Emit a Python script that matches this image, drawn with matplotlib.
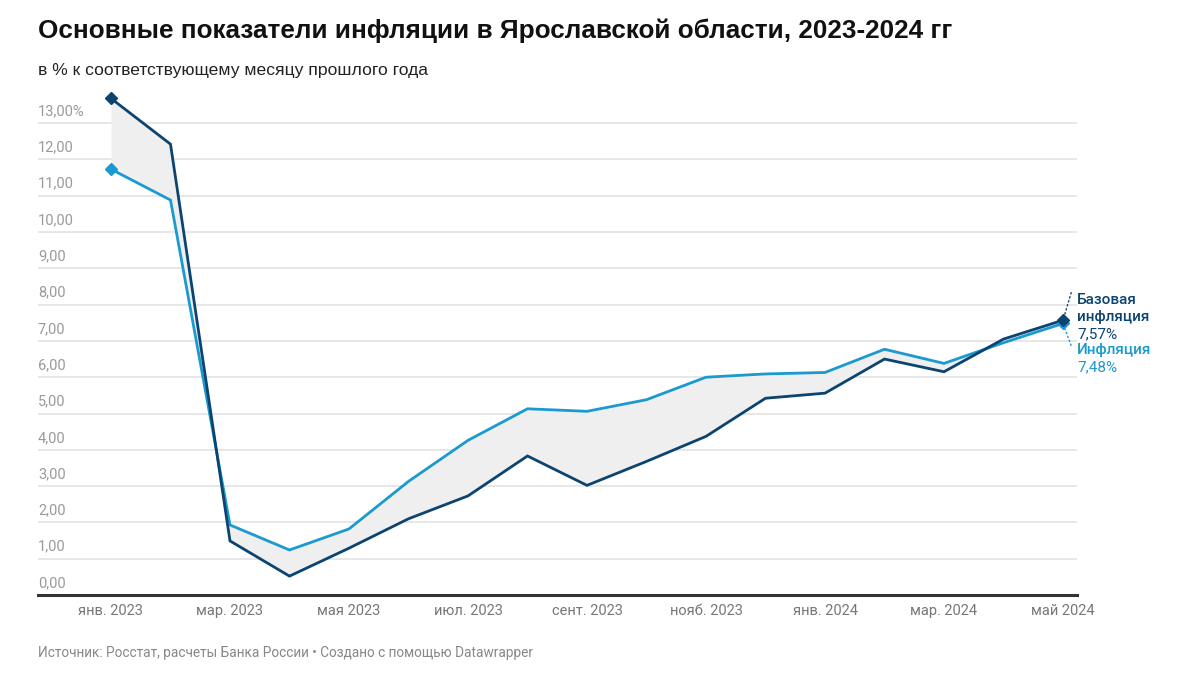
import matplotlib
matplotlib.use("Agg")
import matplotlib.pyplot as plt
import numpy as np

# ---- data ----
months = ["янв. 2023", "февр. 2023", "мар. 2023", "апр. 2023", "мая 2023", "июн. 2023",
          "июл. 2023", "авг. 2023", "сент. 2023", "окт. 2023", "нояб. 2023", "дек. 2023",
          "янв. 2024", "февр. 2024", "мар. 2024", "апр. 2024", "май 2024"]
base_infl = [13.68, 12.42, 1.49, 0.52, 1.29, 2.10, 2.73, 3.83, 3.02, 3.68, 4.37, 5.42,
             5.56, 6.50, 6.15, 7.05, 7.57]
infl = [11.73, 10.88, 1.93, 1.24, 1.82, 3.13, 4.26, 5.13, 5.06, 5.38, 6.00, 6.09,
        6.13, 6.77, 6.38, 6.95, 7.48]
y_ticks = [0, 1, 2, 3, 4, 5, 6, 7, 8, 9, 10, 11, 12, 13]
y_tick_labels = ["0,00", "1,00", "2,00", "3,00", "4,00", "5,00", "6,00", "7,00",
                 "8,00", "9,00", "10,00", "11,00", "12,00", "13,00%"]
x_tick_idx = [0, 2, 4, 6, 8, 10, 12, 14, 16]

title = "Основные показатели инфляции в Ярославской области, 2023-2024 гг"
subtitle = "в % к соответствующему месяцу прошлого года"
footer = "Источник: Росстат, расчеты Банка России • Создано с помощью Datawrapper"

DARK = "#0b4470"
LIGHT = "#1a9ad0"

W, H = 1200, 675
fig = plt.figure(figsize=(12, 6.75), dpi=100)
fig.patch.set_facecolor("white")

def fx(px):
    return px / W

def fy(py):
    return 1 - py / H

ax_left, ax_right, ax_bottom, ax_top = 38, 1077, 595, 90
ax = fig.add_axes([fx(ax_left), fy(ax_bottom), fx(ax_right - ax_left), fy(ax_top) - fy(ax_bottom)])
x0_px, step_px = 111, 59.5
xmin = (ax_left - x0_px) / step_px
xmax = (ax_right - x0_px) / step_px
ax.set_xlim(xmin, xmax)
ppu = 36.3
ax.set_ylim(0, (ax_bottom - ax_top) / ppu)

for s in ax.spines.values():
    s.set_visible(False)
ax.set_xticks([])
ax.set_yticks([])

x = np.arange(len(months))

# grid lines
for v in y_ticks[1:]:
    ax.axhline(v, color="#e3e3e3", lw=1.2, zorder=0)
ax.axhline(0, color="#333333", lw=2.2, zorder=5, clip_on=False)

# y tick labels (text above the line, left aligned)
for v, lab in zip(y_ticks, y_tick_labels):
    ax.annotate(lab, xy=(0, v), xycoords=("axes fraction", "data"),
                xytext=(0, 5), textcoords="offset pixels",
                ha="left", va="bottom", fontsize=10.5, color="#9a9a9a",
                family="Roboto")

# fill between
ax.fill_between(x, base_infl, infl, color="#efefef", zorder=1, lw=0)

ax.plot(x, infl, color=LIGHT, lw=2, zorder=3, solid_joinstyle="miter")
ax.plot(x, base_infl, color=DARK, lw=2, zorder=4, solid_joinstyle="miter")

# start / end markers
ax.plot([x[0]], [infl[0]], marker="D", ms=6, color=LIGHT, zorder=6, clip_on=False)
ax.plot([x[0]], [base_infl[0]], marker="D", ms=6, color=DARK, zorder=6, clip_on=False)
ax.plot([x[-1]], [infl[-1]], marker="D", ms=6, color=LIGHT, zorder=6, clip_on=False)
ax.plot([x[-1]], [base_infl[-1]], marker="D", ms=6, color=DARK, zorder=7, clip_on=False)

# x tick labels
for i in x_tick_idx:
    ax.annotate(months[i], xy=(x[i], 0), xycoords="data",
                xytext=(0, -16), textcoords="offset pixels",
                ha="center", va="center", fontsize=10.5, color="#777777",
                family="Roboto", annotation_clip=False)

# end labels with dotted connectors
lx = fx(1077)
ax.annotate("", xy=(x[-1], base_infl[-1]), xycoords="data",
            xytext=(fx(1072), fy(290)), textcoords="figure fraction",
            arrowprops=dict(arrowstyle="-", color=DARK, lw=1, linestyle=(0, (1, 2))),
            annotation_clip=False)
ax.annotate("", xy=(x[-1], infl[-1]), xycoords="data",
            xytext=(fx(1072), fy(348)), textcoords="figure fraction",
            arrowprops=dict(arrowstyle="-", color=LIGHT, lw=1, linestyle=(0, (1, 2))),
            annotation_clip=False)
fig.text(lx, fy(300), "Базовая", fontsize=11, fontweight="medium", color=DARK,
         family="Roboto", ha="left", va="center")
fig.text(lx, fy(317), "инфляция", fontsize=11, fontweight="medium", color=DARK,
         family="Roboto", ha="left", va="center")
fig.text(lx, fy(334), "7,57%", fontsize=11, color=DARK,
         family="Roboto", ha="left", va="center")
fig.text(lx, fy(350), "Инфляция", fontsize=11, fontweight="medium", color=LIGHT,
         family="Roboto", ha="left", va="center")
fig.text(lx, fy(367), "7,48%", fontsize=11, color=LIGHT,
         family="Roboto", ha="left", va="center")

# title, subtitle, footer
fig.text(fx(38), fy(31), title, fontsize=18.8, fontweight="bold", color="#111111",
         family="Liberation Sans", ha="left", va="center")
fig.text(fx(38), fy(70), subtitle, fontsize=12.6, color="#222222",
         family="Liberation Sans", ha="left", va="center")
fig.text(fx(38), fy(653), footer, fontsize=9.8, color="#888888",
         family="Roboto", ha="left", va="center")

fig.savefig("out.png", dpi=100, facecolor="white")
